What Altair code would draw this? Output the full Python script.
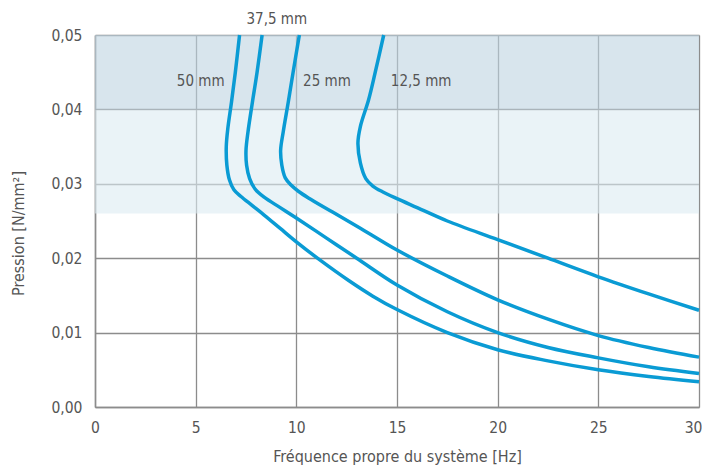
import altair as alt
import pandas as pd

FONT = "DejaVu Sans Condensed, DejaVu Sans, sans-serif"
TXT = "#555555"
GRID = "#8c8c8c"
BLUE = "#0a9bd4"

series_names = ["50 mm", "37,5 mm", "25 mm", "12,5 mm"]

x_50 = [7.18, 6.97, 6.78, 6.6, 6.52, 6.55, 6.68, 6.9, 7.25, 7.8, 8.4, 9.2, 10.0, 11.2, 12.6, 13.8, 15.0, 17.5, 20.0, 22.5, 25.0, 27.5, 30.0]
y_50 = [0.050, 0.045, 0.041, 0.0375, 0.035, 0.0325, 0.0305, 0.0292, 0.0283, 0.0271, 0.0258, 0.0240, 0.0222, 0.0197, 0.0170, 0.0149, 0.0131, 0.0100, 0.0077, 0.0062, 0.0050, 0.0041, 0.0034]

x_375 = [8.3, 8.05, 7.82, 7.6, 7.5, 7.53, 7.68, 7.95, 8.4, 9.2, 10.0, 11.5, 13.0, 15.0, 17.5, 20.0, 22.5, 25.0, 27.5, 30.0]
y_375 = [0.050, 0.045, 0.041, 0.037, 0.0345, 0.0325, 0.0307, 0.0293, 0.0282, 0.0268, 0.0254, 0.0227, 0.0200, 0.0164, 0.0128, 0.0100, 0.0080, 0.0066, 0.0054, 0.0045]

x_25 = [10.15, 9.84, 9.6, 9.35, 9.22, 9.28, 9.45, 9.75, 10.1, 10.6, 11.8, 13.2, 15.0, 17.5, 20.0, 22.5, 25.0, 27.5, 30.0]
y_25 = [0.050, 0.045, 0.041, 0.037, 0.0345, 0.0325, 0.0308, 0.0298, 0.0290, 0.0281, 0.0262, 0.0240, 0.0211, 0.0176, 0.0144, 0.0118, 0.0096, 0.0080, 0.0067]

x_125 = [14.34, 13.92, 13.59, 13.18, 13.06, 13.18, 13.45, 13.8, 14.3, 15.0, 16.0, 17.5, 20.0, 22.5, 25.0, 27.5, 30.0]
y_125 = [0.050, 0.045, 0.0413, 0.0377, 0.0355, 0.0328, 0.0307, 0.0297, 0.0289, 0.0280, 0.0268, 0.0250, 0.0225, 0.0200, 0.0175, 0.0152, 0.0130]

label_text = ["50 mm", "37,5 mm", "25 mm", "12,5 mm"]
label_x = [5.25, 9.03, 11.52, 16.2]
label_y = [0.0438, 0.0521, 0.0438, 0.0438]

band_y = [0.026, 0.04]
band_y2 = [0.04, 0.05]
band_color = ["#dcebf2", "#bed4e1"]

x_ticks = [0, 5, 10, 15, 20, 25, 30]
y_ticks = [0.0, 0.01, 0.02, 0.03, 0.04, 0.05]

rows = []
for name, xs_, ys_ in zip(series_names, [x_50, x_375, x_25, x_125], [y_50, y_375, y_25, y_125]):
    for i, (xv, yv) in enumerate(zip(xs_, ys_)):
        rows.append({"series": name, "i": i, "x": xv, "y": yv})
curves = pd.DataFrame(rows)

bands = pd.DataFrame({"x0": [0, 0], "x1": [30, 30], "y0": band_y, "y1": band_y2, "c": band_color})
labels = pd.DataFrame({"t": label_text, "x": label_x, "y": label_y})

xs = alt.Scale(domain=[0, 30], nice=False, zero=False)
ys = alt.Scale(domain=[0, 0.05], nice=False)

xaxis = alt.Axis(values=x_ticks, title="Fréquence propre du système [Hz]", labelPadding=13,
                 labelFlush=False, titlePadding=13,
                 labelAlign={"condition": {"test": "datum.value === 30", "value": "right"}, "value": "center"},
                 labelOffset={"condition": {"test": "datum.value === 30", "value": 3}, "value": 0})
yaxis = alt.Axis(values=y_ticks, title="Pression [N/mm²]", labelPadding=13,
                 labelExpr="replace(format(datum.value, '.2f'), '.', ',')",
                 titleX=-77, titleY=198, titleAngle=-90, titleAlign="center", titleBaseline="middle")

band_layer = alt.Chart(bands).mark_rect(opacity=0.6).encode(
    x=alt.X("x0:Q", scale=xs, axis=xaxis),
    x2="x1:Q",
    y=alt.Y("y0:Q", scale=ys, axis=yaxis),
    y2="y1:Q",
    color=alt.Color("c:N", scale=None),
)

line_layer = alt.Chart(curves).mark_line(interpolate="catmull-rom", strokeWidth=3.5, color=BLUE).encode(
    x=alt.X("x:Q", scale=xs),
    y=alt.Y("y:Q", scale=ys),
    detail="series:N",
    order="i:Q",
)

text_layer = alt.Chart(labels).mark_text(font=FONT, fontSize=15, color=TXT, baseline="middle", align="center").encode(
    x=alt.X("x:Q", scale=xs),
    y=alt.Y("y:Q", scale=ys),
    text="t:N",
)

chart = alt.layer(band_layer, line_layer, text_layer).properties(
    width=604, height=372,
    autosize=alt.AutoSizeParams(type="none"),
    padding={"left": 87, "top": 27, "right": 3, "bottom": 60},
).configure_view(stroke=None).configure_axis(
    grid=True, gridColor=GRID, gridWidth=1.3, domainColor=GRID, domainWidth=1.5,
    ticks=False, labelFont=FONT, labelFontSize=15.5, labelColor=TXT,
    titleFont=FONT, titleFontSize=16, titleFontWeight="normal", titleColor=TXT,
)

chart.save("out.html", embed_options={"renderer": "svg", "actions": False})
